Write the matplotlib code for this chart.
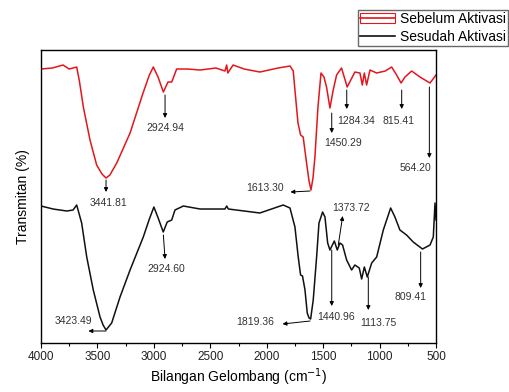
import matplotlib
matplotlib.use("Agg")
import matplotlib.pyplot as plt
from matplotlib.lines import Line2D
from matplotlib.patches import Patch

plt.rcParams['font.family'] = ['Liberation Sans', 'DejaVu Sans']

RED = '#e3161c'
BLACK = '#111111'
LABEL_GRAY = '#333333'

# FTIR spectra (arbitrary transmittance units)
wn_before = [4000, 3900, 3805, 3750, 3684, 3660, 3625, 3566, 3507, 3460,
             3424, 3390, 3329, 3211, 3096, 3040, 3005, 2963, 2916, 2875,
             2842, 2798, 2700, 2591, 2450, 2370, 2355, 2345, 2298, 2200,
             2061, 1900, 1794, 1765, 1750, 1723, 1700, 1677, 1647, 1625,
             1608, 1590, 1573, 1546, 1519, 1493, 1470, 1440, 1411, 1381,
             1337, 1287, 1219, 1174, 1153, 1135, 1115, 1085, 1026, 950,
             893, 849, 810, 775, 716, 642, 553, 500]
t_before = [274, 275, 278, 274, 276, 262, 236, 203, 178, 169,
            165, 168, 180, 210, 250, 268, 276, 266, 251, 261,
            261, 274, 274, 273, 275, 272, 278, 270, 278, 274,
            271, 275, 277, 272, 253, 220, 208, 206, 180, 162,
            153, 165, 186, 236, 270, 266, 256, 235, 253, 268,
            275, 256, 271, 270, 258, 270, 258, 273, 270, 272,
            276, 268, 260, 266, 272, 266, 260, 268]

wn_after = [4000, 3893, 3772, 3716, 3684, 3640, 3595, 3537, 3477, 3450,
            3424, 3374, 3300, 3211, 3094, 3040, 3000, 2962, 2917, 2882,
            2842, 2813, 2739, 2591, 2370, 2355, 2340, 2200, 2061, 1854,
            1794, 1750, 1721, 1700, 1683, 1661, 1641, 1625, 1611, 1588,
            1558, 1537, 1505, 1484, 1460, 1440, 1401, 1375, 1351, 1328,
            1292, 1248, 1219, 1180, 1159, 1135, 1109, 1070, 1026, 967,
            902, 864, 820, 761, 702, 620, 553, 524, 509, 500]
t_after = [137, 134, 132, 133, 138, 120, 86, 53, 26, 18,
           13, 20, 46, 73, 106, 124, 136, 125, 111, 121,
           123, 133, 137, 134, 134, 137, 134, 132, 130, 138,
           135, 116, 86, 68, 67, 53, 30, 25, 24, 43,
           86, 120, 131, 126, 100, 93, 102, 93, 100, 98,
           83, 73, 78, 75, 64, 76, 66, 80, 86, 113,
           135, 126, 113, 108, 101, 94, 98, 106, 140, 123]

peaks_before = ['3441.81', '2924.94', '1613.30', '1450.29', '1284.34', '815.41', '564.20']
peaks_after = ['3423.49', '2924.60', '1819.36', '1440.96', '1373.72', '1113.75', '809.41']

# annotation layout: (arrow tail, arrow head, text position) in data coords
layout_before = [((3424, 163), (3424, 151), (3406, 140)),
                 ((2901, 248), (2901, 225), (2901, 215)),
                 ((1616, 152), (1790, 151), (2015, 155)),
                 ((1424, 230), (1424, 210), (1327, 200)),
                 ((1291, 253), (1291, 234), (1211, 222)),
                 ((804, 253), (804, 234), (828, 222)),
                 ((559, 256), (559, 185), (680, 175))]
layout_after = [((3424, 12), (3580, 12), (3716, 22)),
                ((2916, 108), (2901, 84), (2892, 74)),
                ((1616, 22), (1860, 19), (2104, 21)),
                ((1424, 93), (1424, 37), (1386, 26)),
                ((1366, 98), (1327, 127), (1256, 135)),
                ((1100, 66), (1100, 33), (1011, 20)),
                ((636, 91), (636, 55), (730, 46))]

fig = plt.figure(figsize=(5.09, 3.92), dpi=100)
ax = fig.add_axes([0.0806, 0.125, 0.776, 0.7474])

ax.plot(wn_before, t_before, color=RED, linewidth=1.1)
ax.plot(wn_after, t_after, color=BLACK, linewidth=1.1)

for labels, lay in [(peaks_before, layout_before), (peaks_after, layout_after)]:
    for lab, (tail, head, txt) in zip(labels, lay):
        ax.annotate('', xy=head, xytext=tail,
                    arrowprops=dict(arrowstyle='-|>', color='black', lw=0.7,
                                    mutation_scale=6, shrinkA=0, shrinkB=0))
        ax.text(txt[0], txt[1], lab, fontsize=7.5, color=LABEL_GRAY,
                ha='center', va='center')

ax.set_xlim(4000, 500)
ax.set_ylim(0, 293)
ax.set_xticks([4000, 3500, 3000, 2500, 2000, 1500, 1000, 500])
ax.set_xticks([3750, 3250, 2750, 2250, 1750, 1250, 750], minor=True)
ax.tick_params(axis='x', which='major', direction='out', length=3.5, width=0.8,
               labelsize=8.5, pad=2, labelcolor='#222222')
ax.tick_params(axis='x', which='minor', direction='out', length=2, width=0.8)
ax.set_yticks([])
for sp in ax.spines.values():
    sp.set_linewidth(1.0)

ax.set_xlabel('Bilangan Gelombang (cm$^{-1}$)', fontsize=10, labelpad=3)
ax.set_ylabel('Transmitan (%)', fontsize=10, labelpad=8)

handles = [(Patch(facecolor='white', edgecolor=RED, linewidth=0.8),
            Line2D([], [], color=RED, linewidth=1.2)),
           Line2D([], [], color=BLACK, linewidth=1.2)]
fig.legend(handles, ['Sebelum Aktivasi', 'Sesudah Aktivasi'],
           loc='upper left', bbox_to_anchor=(358 / 509, 1 - 10 / 392),
           fontsize=10, frameon=True, fancybox=False, edgecolor='#444444',
           borderpad=0.15, labelspacing=0.25, handlelength=2.5,
           handletextpad=0.4, borderaxespad=0)

fig.savefig('out.png', dpi=100)
